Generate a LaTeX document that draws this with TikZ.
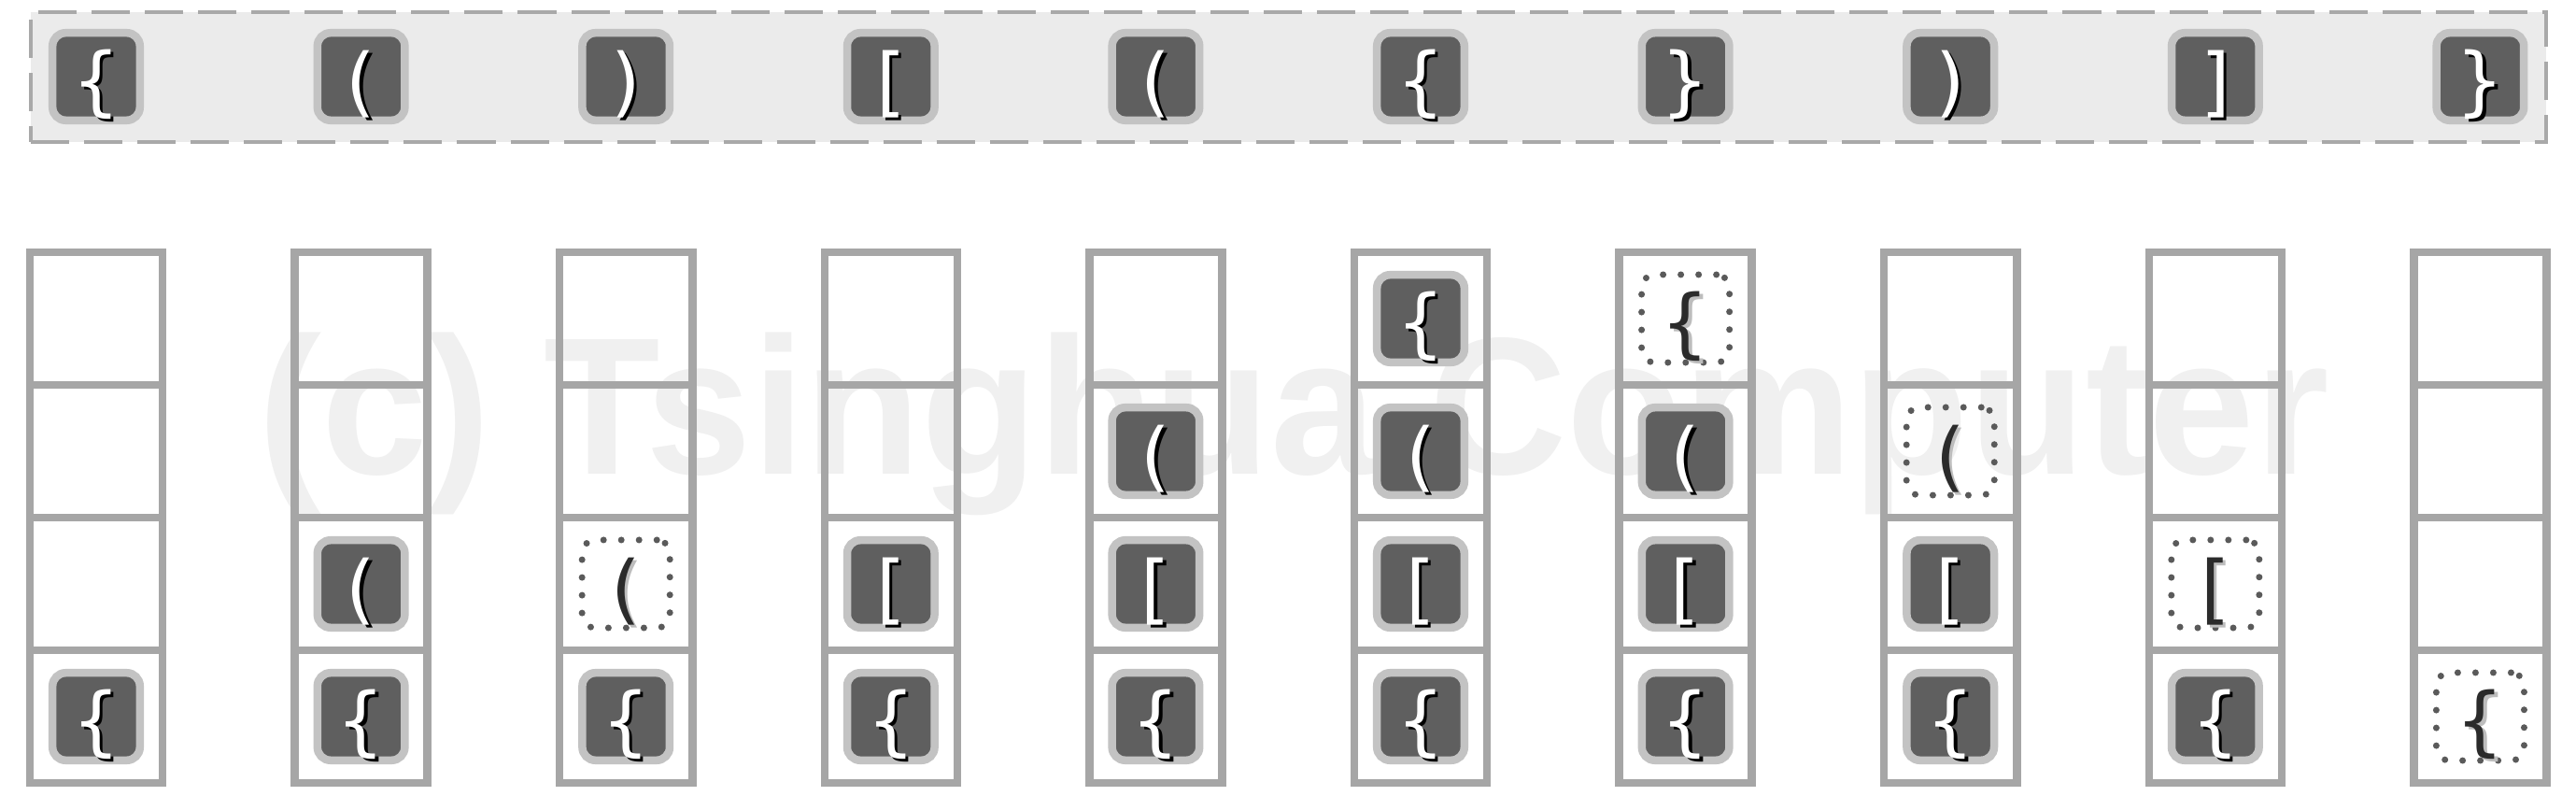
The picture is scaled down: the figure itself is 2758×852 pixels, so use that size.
\documentclass[tikz,border=0pt]{standalone}
\usepackage{fontspec}
\newfontfamily\brfont{DejaVu Sans}
\newfontfamily\wmfont{Liberation Sans}
\usetikzlibrary{positioning}
\definecolor{stackgray}{HTML}{A6A6A6}
\definecolor{bargray}{HTML}{A9A9A9}
\definecolor{barfill}{HTML}{EBEBEB}
\definecolor{tokfill}{HTML}{5F5F5F}
\definecolor{tokedge}{HTML}{C3C3C3}
\definecolor{dotgray}{HTML}{5A5A5A}
\definecolor{inkdark}{HTML}{2B2B2B}
\definecolor{inklight}{HTML}{BDBDBD}
\definecolor{wmgray}{HTML}{F0F0F0}
\tikzset{
  inbar/.style={draw=bargray, fill=barfill, line width=0.045cm, dash pattern=on 0.41cm off 0.16cm,
    minimum width=26.91cm, minimum height=1.39cm, inner sep=0pt},
  cell/.style={draw=stackgray, line width=0.085cm, minimum size=1.42cm, inner sep=0pt, outer sep=0pt},
  tok/.style={draw=tokedge, fill=tokfill, line width=0.085cm, rounded corners=0.14cm,
    minimum size=0.935cm, inner sep=0pt},
  gone/.style={draw=dotgray, line width=0.07cm, line cap=round, dash pattern=on 0pt off 0.19cm,
    rounded corners=0.14cm, minimum size=0.94cm, inner sep=0pt},
  brglyph/.style={font=\brfont\fontsize{23pt}{23pt}\selectfont, inner sep=0pt},
  wmark/.style={font=\wmfont\bfseries\fontsize{59.5pt}{59.5pt}\selectfont, text=wmgray, inner sep=0pt, anchor=base}
}

\begin{document}
\begin{tikzpicture}[x=0.01cm, y=-0.01cm]
\useasboundingbox (0,0) rectangle (2758,852);
% watermark behind everything
\node[wmark] (wm) at (1385,508) {\scalebox{0.975}[1]{(c) Tsinghua Computer}};

% input sequence
\node[inbar] (bar) at (1379.5,82.5) {};
\foreach \g [count=\i from 0] in {{\{},{(},{)},{[},{(},{\{},{\}},{)},{]},{\}}} {
  \node[tok] (b\i) at (103+283.6*\i,82) {};
  \node[brglyph, text=black] (b\i s) at ([shift={(0.035cm,-0.115cm)}]b\i.center) {\g};
  \node[brglyph, text=white] (b\i g) at ([yshift=-0.08cm]b\i.center) {\g};
}

% stacks, row 1 at the bottom
\foreach \i in {0,...,9}
  \foreach \r in {1,...,4}
    \node[cell] (c\i-\r) at (103+283.6*\i,909-142*\r) {};

% tokens still on the stack
\foreach \c/\r/\g in {0/1/\{, 1/1/\{, 1/2/(, 2/1/\{, 3/1/\{, 3/2/[,
    4/1/\{, 4/2/[, 4/3/(, 5/1/\{, 5/2/[, 5/3/(, 5/4/\{,
    6/1/\{, 6/2/[, 6/3/(, 7/1/\{, 7/2/[, 8/1/\{} {
  \node[tok] (t\c-\r) at (c\c-\r) {};
  \node[brglyph, text=black] (t\c-\r s) at ([shift={(0.035cm,-0.115cm)}]t\c-\r.center) {\g};
  \node[brglyph, text=white] (t\c-\r g) at ([yshift=-0.08cm]t\c-\r.center) {\g};
}

% tokens just popped
\foreach \c/\r/\g in {2/2/(, 6/4/\{, 7/3/(, 8/2/[, 9/1/\{} {
  \node[gone] (p\c-\r) at (c\c-\r) {};
  \node[brglyph, text=inklight] (p\c-\r s) at ([shift={(0.035cm,-0.115cm)}]p\c-\r.center) {\g};
  \node[brglyph, text=inkdark] (p\c-\r g) at ([yshift=-0.08cm]p\c-\r.center) {\g};
}
\end{tikzpicture}
\end{document}
